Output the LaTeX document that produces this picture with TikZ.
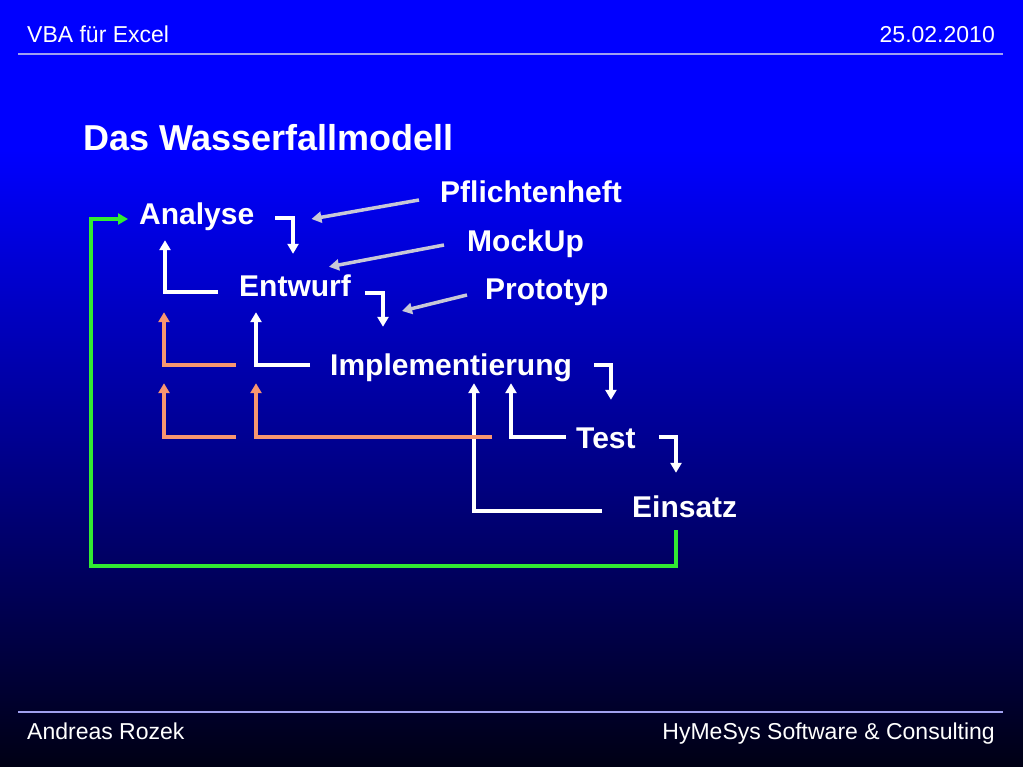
\documentclass[tikz,border=0pt]{standalone}
\usepackage{fontspec}
\setmainfont{Liberation Sans}
\usetikzlibrary{arrows.meta}
\definecolor{slidetop}{RGB}{0,0,255}
\definecolor{slidemid}{RGB}{0,0,165}
\definecolor{slidebottom}{RGB}{0,0,20}
\definecolor{rulecol}{RGB}{160,160,240}
\definecolor{backcol}{RGB}{248,150,112}
\definecolor{notecol}{RGB}{200,200,215}
\definecolor{restartcol}{RGB}{50,235,50}
\pgfdeclarelayer{bg}
\pgfsetlayers{bg,main}
\tikzset{
        phase/.style={text=white, font=\bfseries\fontsize{30}{36}\selectfont, inner sep=0pt,
                text height=22pt, text depth=0pt, anchor=base west},
        head/.style={text=white, font=\fontsize{23}{27}\selectfont, inner sep=0pt},
        flow/.style={white, line width=3.5pt, -{Triangle[length=10pt,width=11pt]}},
        back/.style={flow, backcol},
        note/.style={flow, notecol},
        restart/.style={flow, restartcol},
}
\begin{document}
\begin{tikzpicture}[x=1pt, y=-1pt]
        \useasboundingbox (0,0) rectangle (1023,767);
        \begin{pgfonlayer}{bg}
                \fill[slidetop] (0,0) rectangle (1023,151);
                \shade[top color=slidetop, middle color=slidemid, bottom color=slidebottom] (0,150) rectangle (1023,767);
        \end{pgfonlayer}
        % header and footer
        \node (hl) [head, anchor=base west] at (27,43) {VBA für Excel};
        \node (hr) [head, anchor=base east] at (995,43) {25.02.2010};
        \node (fl) [head, anchor=base west] at (27,739) {Andreas Rozek};
        \node (fr) [head, anchor=base east] at (995,739) {HyMeSys Software \& Consulting};
        \coordinate (h0) at (18,54);
        \coordinate (h1) at (1003,54);
        \coordinate (f0) at (18,712);
        \coordinate (f1) at (1003,712);
        \draw[rulecol, line width=1.5pt] (h0) -- (h1);
        \draw[rulecol, line width=1.5pt] (f0) -- (f1);
        \node (title) [phase, font=\bfseries\fontsize{36}{42}\selectfont] at (83,151) {Das Wasserfallmodell};
        % phases
        \node (ana) [phase] at (139,225) {Analyse};
        \node (ent) [phase] at (239,297) {Entwurf};
        \node (impl) [phase] at (330,375) {Implementierung};
        \node (test) [phase] at (576,448) {Test};
        \node (ein) [phase] at (632,517) {Einsatz};
        % documents
        \node (pfl) [phase] at (440,203) {Pflichtenheft};
        \node (mock) [phase] at (467,252) {MockUp};
        \node (proto) [phase] at (485,300) {Prototyp};
        % forward
        \draw[flow] ([shift={(21,4)}]ana.east) -| ([shift={(-2,-21)}]ent.north);
        \draw[flow] ([shift={(14,7)}]ent.east) -| ([shift={(53,-26)}]impl.north west);
        \draw[flow] ([shift={(22,1)}]impl.east) -| ([shift={(5,-26)}]test.north);
        \draw[flow] ([shift={(23,0)}]test.east) -| ([shift={(44,-22)}]ein.north west);
        % back one step
        \draw[flow] ([shift={(-21,6)}]ent.west) -| ([shift={(26,15)}]ana.south west);
        \draw[flow] ([shift={(-20,1)}]impl.west) -| ([shift={(17,15)}]ent.south west);
        \draw[flow] ([shift={(-10,0)}]test.west) -| ([shift={(181,8)}]impl.south west);
        \draw[flow] ([shift={(-30,5)}]ein.west) -| ([shift={(144,8)}]impl.south west);
        % back further
        \draw[back] ([shift={(-94,1)}]impl.west) -| ([shift={(25,87)}]ana.south west);
        \draw[back] ([shift={(-340,0)}]test.west) -| ([shift={(25,158)}]ana.south west);
        \draw[back] ([shift={(-84,0)}]test.west) -| ([shift={(17,86)}]ent.south west);
        % results
        \draw[note] ([shift={(-21,8)}]pfl.west) -- ([shift={(57,5)}]ana.east);
        \draw[note] ([shift={(-23,4)}]mock.west) -- ([shift={(34,-8)}]ent.north);
        \draw[note] ([shift={(-18,6)}]proto.west) -- ([shift={(51,25)}]ent.east);
        % new start
        \draw[restart] ([shift={(44,13)}]ein.south west) -- ++(0,36) -| ([shift={(-48,5)}]ana.west) -- ([shift={(-11,5)}]ana.west);
\end{tikzpicture}
\end{document}
